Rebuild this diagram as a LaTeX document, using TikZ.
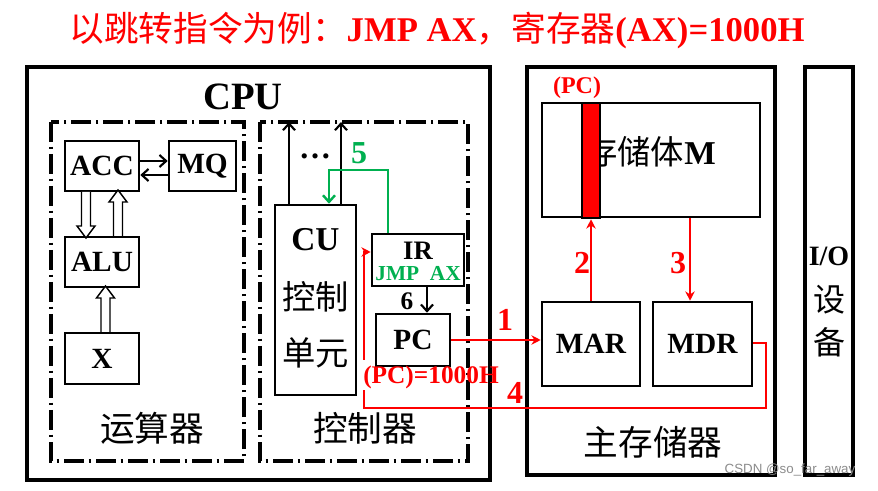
\documentclass[tikz,border=0pt]{standalone}
\usepackage{fontspec}
\setmainfont{Liberation Serif}
\newfontfamily\cjk{Noto Sans CJK SC}
\newfontfamily\wmfont{Liberation Sans}
\usetikzlibrary{arrows.meta,calc}
\definecolor{myred}{RGB}{255,0,0}
\definecolor{mygreen}{RGB}{0,176,80}
\newcommand{\fs}[1]{\fontsize{#1}{#1}\selectfont}
\tikzset{
  box/.style={draw, line width=1.9pt, inner sep=0pt, font=\bfseries\fs{22}},
  container/.style={line width=2.6pt},
  dashdot/.style={line width=2.3pt, dash pattern=on 15pt off 3.5pt on 2pt off 3.5pt},
  txt/.style={inner sep=0pt},
  rednum/.style={inner sep=0pt, text=myred, font=\bfseries\fs{24}},
  blkarrow/.style={line width=1.6pt, -{Straight Barb[length=5pt,width=9pt]}},
  grnarrow/.style={mygreen, line width=1.8pt, -{Straight Barb[length=5pt,width=9pt]}},
  redline/.style={myred, line width=2pt},
  redarrow/.style={myred, line width=2pt, -{Stealth[length=7pt,width=7pt]}},
  hollow/.pic={\draw[line width=1.1pt, fill=white] (-4.5,0) -- (-4.5,34) -- (-9,34) -- (0,46) -- (9,34) -- (4.5,34) -- (4.5,0);}
}
\begin{document}
\begin{tikzpicture}[x=0.75pt,y=-0.75pt]
\useasboundingbox (0,0) rectangle (878,491);
\fill[white] (0,0) rectangle (878,491);

% title
\node[txt, text=myred, font=\bfseries\fs{26}] (title) at (437,31)
  {{\cjk\mdseries 以跳转指令为例：}JMP AX{\cjk\mdseries ，寄存器}(AX)=1000H};

% containers
\draw[container] (27,67) rectangle (490,480);
\node[txt, font=\bfseries\fs{29}] (cpu) at (243,97) {CPU};
\draw[dashdot] (51,122) rectangle (244,461);
\draw[dashdot] (260,122) rectangle (468,461);
\draw[container] (527,67) rectangle (775,475);
\draw[container] (805,67) rectangle (853,475);

% arithmetic unit
\node[box, minimum width=55.5pt, minimum height=37.5pt] (acc) at (102,166) {ACC};
\node[box, minimum width=50.25pt, minimum height=37.5pt] (mq) at (202.5,166) {MQ};
\node[box, minimum width=55.5pt, minimum height=37.5pt] (alu) at (102,262) {ALU};
\node[box, minimum width=55.5pt, minimum height=38.25pt] (x) at (102,358.5) {X};
\coordinate (am1) at (0,161);
\coordinate (am2) at (0,175);
\draw[blkarrow] (acc.east |- am1) -- (mq.west |- am1);
\draw[blkarrow] (mq.west |- am2) -- (acc.east |- am2);
\pic at (86,192) {hollow};
\pic[rotate=180] at (118,236) {hollow};
\pic[rotate=180] at (105.5,332) {hollow};
\node[txt, font=\cjk\fs{26}] (ysq) at (152,428) {运算器};

% control unit
\node[box, minimum width=60.75pt, minimum height=142.5pt] (cu) at (315.5,300) {};
\node[txt, font=\bfseries\fs{25}] (cut) at (315.5,240) {CU};
\node[txt, font=\cjk\fs{25}] (cu2) at (315.5,297) {控制};
\node[txt, font=\cjk\fs{25}] (cu3) at (315.5,353) {单元};
\coordinate (up1) at (289,122);
\coordinate (up2) at (341,122);
\draw[blkarrow] (cu.north -| up1) -- (up1);
\draw[blkarrow] (cu.north -| up2) -- (up2);
\node[txt, font=\bfseries\fs{24}] (dots) at (315,156) {…};

\node[box, minimum width=69pt, minimum height=39pt] (ir) at (418,260) {};
\node[txt, font=\bfseries\fs{20}] (irt) at (418,251) {IR};
\node[txt, text=mygreen, font=\bfseries\fs{16}] (jmp) at (418,274) {JMP\ \ AX};
\node[box, minimum width=55.5pt, minimum height=39pt] (pc) at (413,340) {PC};

\coordinate (g1) at (388,170);
\coordinate (g2) at (329,170);
\draw[grnarrow] (ir.north -| g1) -- (g1) -- (g2) -- (cu.north -| g2);
\node[txt, text=mygreen, font=\bfseries\fs{24}] (n5) at (359,153) {5};

\coordinate (s6) at (427,0);
\draw[blkarrow] (ir.south -| s6) -- (pc.north -| s6);
\node[txt, font=\bfseries\fs{19}] (n6) at (407,301) {6};
\node[txt, font=\cjk\fs{26}] (kzq) at (365,428) {控制器};

% main memory
\node[box, minimum width=163.5pt, minimum height=85.5pt] (mem) at (651,160) {};
\node[txt, font=\fs{25}] (memt) at (650,152) {{\cjk 存储体}\textbf{M}};
\node[draw, fill=myred, line width=1.9pt, inner sep=0pt, minimum width=13.5pt, minimum height=86.25pt] (bar) at (591,160.5) {};
\node[txt, text=myred, font=\bfseries\fs{18}] (pct) at (577,88) {(PC)};
\node[box, minimum width=73.5pt, minimum height=63pt] (mar) at (591,344) {MAR};
\node[box, minimum width=74.25pt, minimum height=63pt] (mdr) at (702.5,344) {MDR};
\node[txt, font=\cjk\fs{26}] (zcq) at (653,442) {主存储器};

% I/O
\node[txt, font=\bfseries\fs{21}] (io) at (829,256) {I/O};
\node[txt, font=\cjk\fs{24}] (io2) at (829,300) {设};
\node[txt, font=\cjk\fs{24}] (io3) at (829,342) {备};

% red flows
\draw[redarrow] (pc.east) -- (pc.east -| mar.west);
\node[rednum] (n1) at (505,320) {1};
\draw[redarrow] (mar.north) -- (bar.south);
\node[rednum] (n2) at (582,263) {2};
\coordinate (m3) at (690,0);
\draw[redarrow] (mem.south -| m3) -- (mdr.north -| m3);
\node[rednum] (n3) at (678,263) {3};

\coordinate (r1) at (766,343);
\coordinate (r2) at (766,408);
\coordinate (r3) at (364,408);
\coordinate (r4) at (364,390);
\coordinate (r5) at (364,360);
\coordinate (r6) at (364,252);
\draw[redline] (mdr.east |- r1) -- (r1) -- (r2) -- (r3) -- (r4);
\draw[redarrow] (r5) -- (r6) -- (ir.west |- r6);
\node[rednum] (n4) at (515,393) {4};
\node[txt, text=myred, font=\bfseries\fs{19}] (pcv) at (431,377) {(PC)=1000H};

% watermark
\node[txt, text=black!45, font=\wmfont\fs{10}] (wm) at (790,470) {CSDN @so\_far\_away};
\end{tikzpicture}
\end{document}
